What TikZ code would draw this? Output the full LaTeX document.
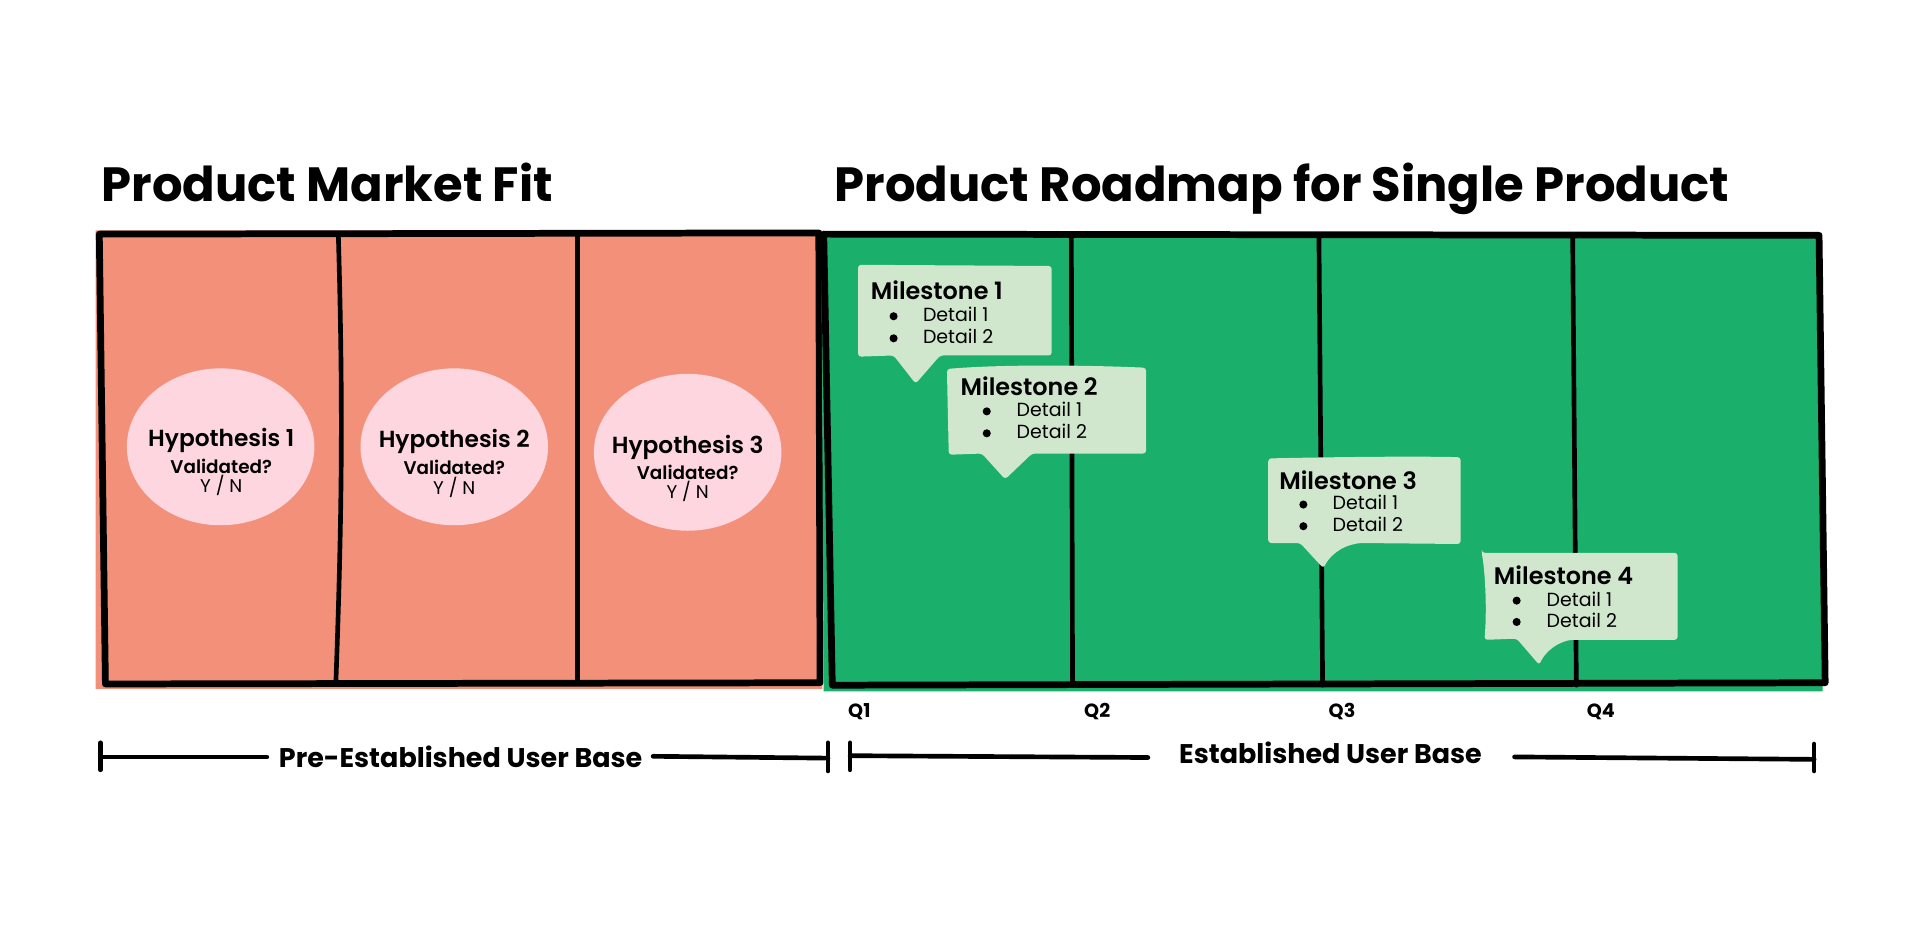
\documentclass[tikz,border=0pt]{standalone}
\usepackage{fontspec}
\usetikzlibrary{shapes.geometric}
\setmainfont{Poppins}
\newfontfamily\popB{Poppins Bold}
\newfontfamily\popS{Poppins SemiBold}
\newfontfamily\popR{Poppins}
\definecolor{salmon}{HTML}{F3907A}
\definecolor{mgreen}{HTML}{1AAF6B}
\definecolor{pinkfill}{HTML}{FDD6DF}
\definecolor{bubblefill}{HTML}{D0E6CD}
\tikzset{
  border/.style={line width=5.5pt, line cap=round, line join=round},
  divider/.style={line width=3.8pt, line cap=round},
  bracketline/.style={line width=3.8pt, line cap=round},
  bubble/.style={fill=bubblefill, rounded corners=2.5pt},
  hypo/.style={fill=pinkfill, draw=none, ellipse},
  txt/.style={inner sep=0pt, outer sep=0pt, anchor=base west},
  ctxt/.style={inner sep=0pt, outer sep=0pt, anchor=base},
  titlefont/.style={font=\popB\fontsize{39.2}{47}\selectfont},
  hypfont/.style={font=\popS\fontsize{19}{23}\selectfont},
  valfont/.style={font=\popS\fontsize{15}{18}\selectfont},
  ynfont/.style={font=\popR\fontsize{15}{18}\selectfont},
  msfont/.style={font=\popS\fontsize{19.5}{23}\selectfont},
  detfont/.style={font=\popR\fontsize{15.5}{18}\selectfont},
  qfont/.style={font=\popB\fontsize{15.6}{18}\selectfont},
  basefont/.style={font=\popB\fontsize{22}{26}\selectfont},
  bulletdot/.style={circle, fill=black, inner sep=0pt, minimum size=6.6pt},
}
\begin{document}
\begin{tikzpicture}[x=1pt,y=-1pt]
\useasboundingbox (0,0) rectangle (1568,770);
\fill[white] (0,0) rectangle (1568,770);

% titles
\node[txt, titlefont] (t1) at (83,164) {Product Market Fit};
\node[txt, titlefont] (t2) at (681,164) {Product Roadmap for Single Product};

% orange panel
\fill[salmon] (78,188) -- (670,188) -- (671,562) -- (78,562) -- cycle;
\draw[divider] (276,191) .. controls (280,330) and (279,420) .. (274,557);
\draw[divider] (471,191) -- (471,557);
\draw[border] (81,191) -- (668,190) -- (669,557) -- (86,558) -- cycle;

% green panel
\fill[mgreen] (670,190) -- (1486,190) -- (1487,564) -- (672,564) -- cycle;
\draw[divider] (874,192) -- (875,559);
\draw[divider] (1076,192) -- (1079,559);
\draw[divider] (1283,192) -- (1286,559);
\draw[border] (672,191) -- (1484,192) -- (1489,557) -- (679,559) -- cycle;

% hypotheses
\node[hypo, minimum width=153pt, minimum height=128pt] (h1) at (180,364.5) {};
\node[hypo, minimum width=153pt, minimum height=128pt] (h2) at (370.6,364.5) {};
\node[hypo, minimum width=153pt, minimum height=128pt] (h3) at (561,369) {};
\node[ctxt, hypfont] (h1t) at (180.5,364) {Hypothesis 1};
\node[ctxt, valfont] (h1v) at (180.5,386) {Validated?};
\node[ctxt, ynfont] (h1y) at (180.5,402) {Y / N};
\node[ctxt, hypfont] (h2t) at (370.6,365) {Hypothesis 2};
\node[ctxt, valfont] (h2v) at (370.6,387) {Validated?};
\node[ctxt, ynfont] (h2y) at (370.6,403.5) {Y / N};
\node[ctxt, hypfont] (h3t) at (561,369.6) {Hypothesis 3};
\node[ctxt, valfont] (h3v) at (561,391) {Validated?};
\node[ctxt, ynfont] (h3y) at (561,407) {Y / N};

% milestone 1
\fill[bubble] (700,216) -- (858,217) -- (858,290) -- (767,290) -- (747,313) -- (729,290) -- (700,291) -- cycle;
\node[txt, msfont] (m1) at (710.5,244) {Milestone 1};
\node[bulletdot] (m1b1) at (729,258) {};
\node[bulletdot] (m1b2) at (729,276) {};
\node[txt, detfont] (m1d1) at (753,262.4) {Detail 1};
\node[txt, detfont] (m1d2) at (753,280.6) {Detail 2};

% milestone 2
\fill[bubble] (772.5,301) .. controls (820,297) and (890,298) .. (935,300) -- (935,370) -- (842,370) -- (820,391) -- (801,370) -- (774,371) -- cycle;
\node[txt, msfont] (m2) at (783.7,322.8) {Milestone 2};
\node[bulletdot] (m2b1) at (805,335.6) {};
\node[bulletdot] (m2b2) at (805,353.5) {};
\node[txt, detfont] (m2d1) at (829.4,340) {Detail 1};
\node[txt, detfont] (m2d2) at (829.4,357.9) {Detail 2};

% milestone 3
\fill[bubble] (1034.6,374) .. controls (1080,373) and (1150,372) .. (1191.6,373) -- (1191.6,443.8) -- (1109.5,443) .. controls (1092,446) and (1084,455) .. (1079.6,463.6) -- (1060.6,443) -- (1034.6,443) -- cycle;
\node[txt, msfont] (m3) at (1043.7,399.7) {Milestone 3};
\node[bulletdot] (m3b1) at (1063.3,411.6) {};
\node[bulletdot] (m3b2) at (1063.3,429.3) {};
\node[txt, detfont] (m3d1) at (1087.2,416) {Detail 1};
\node[txt, detfont] (m3d2) at (1087.2,433.7) {Detail 2};

% milestone 4
\fill[bubble] (1208.8,451) -- (1368.6,451) -- (1368.6,522) -- (1281,522) .. controls (1266,526) and (1259,535) .. (1255.8,542.5) -- (1237.3,521) -- (1211,522) .. controls (1213,500) and (1212,470) .. (1208.8,451) -- cycle;
\node[txt, msfont] (m4) at (1218.8,477.2) {Milestone 4};
\node[bulletdot] (m4b1) at (1237.3,490) {};
\node[bulletdot] (m4b2) at (1237.3,507.4) {};
\node[txt, detfont] (m4d1) at (1261.8,494.4) {Detail 1};
\node[txt, detfont] (m4d2) at (1261.8,511.8) {Detail 2};

% quarter labels
\node[txt, qfont] (q1) at (692,585) {Q1};
\node[txt, qfont] (q2) at (884.5,585) {Q2};
\node[txt, qfont] (q3) at (1084,585) {Q3};
\node[txt, qfont] (q4) at (1294.6,585) {Q4};

% left bracket
\node[txt, basefont] (pre) at (227.6,626) {Pre-Established User Base};
\coordinate (la1) at (82,606);
\coordinate (la2) at (82,628);
\coordinate (la3) at (82,617.7);
\coordinate (la4) at (217.7,617.7);
\coordinate (la5) at (532.8,617);
\coordinate (la6) at (675.5,618.5);
\coordinate (la7) at (675.5,606);
\coordinate (la8) at (675.5,629);
\draw[bracketline] (la1) -- (la2);
\draw[bracketline] (la3) -- (la4);
\draw[bracketline] (la5) -- (la6);
\draw[bracketline] (la7) -- (la8);

% right bracket
\node[txt, basefont] (est) at (962,623) {Established User Base};
\coordinate (ra1) at (693.5,606);
\coordinate (ra2) at (693.5,628);
\coordinate (ra3) at (693.5,616.5);
\coordinate (ra4) at (936.5,618);
\coordinate (ra5) at (1235.6,617.5);
\coordinate (ra6) at (1480,619.5);
\coordinate (ra7) at (1480,607);
\coordinate (ra8) at (1480,629);
\draw[bracketline] (ra1) -- (ra2);
\draw[bracketline] (ra3) -- (ra4);
\draw[bracketline] (ra5) -- (ra6);
\draw[bracketline] (ra7) -- (ra8);
\end{tikzpicture}
\end{document}
